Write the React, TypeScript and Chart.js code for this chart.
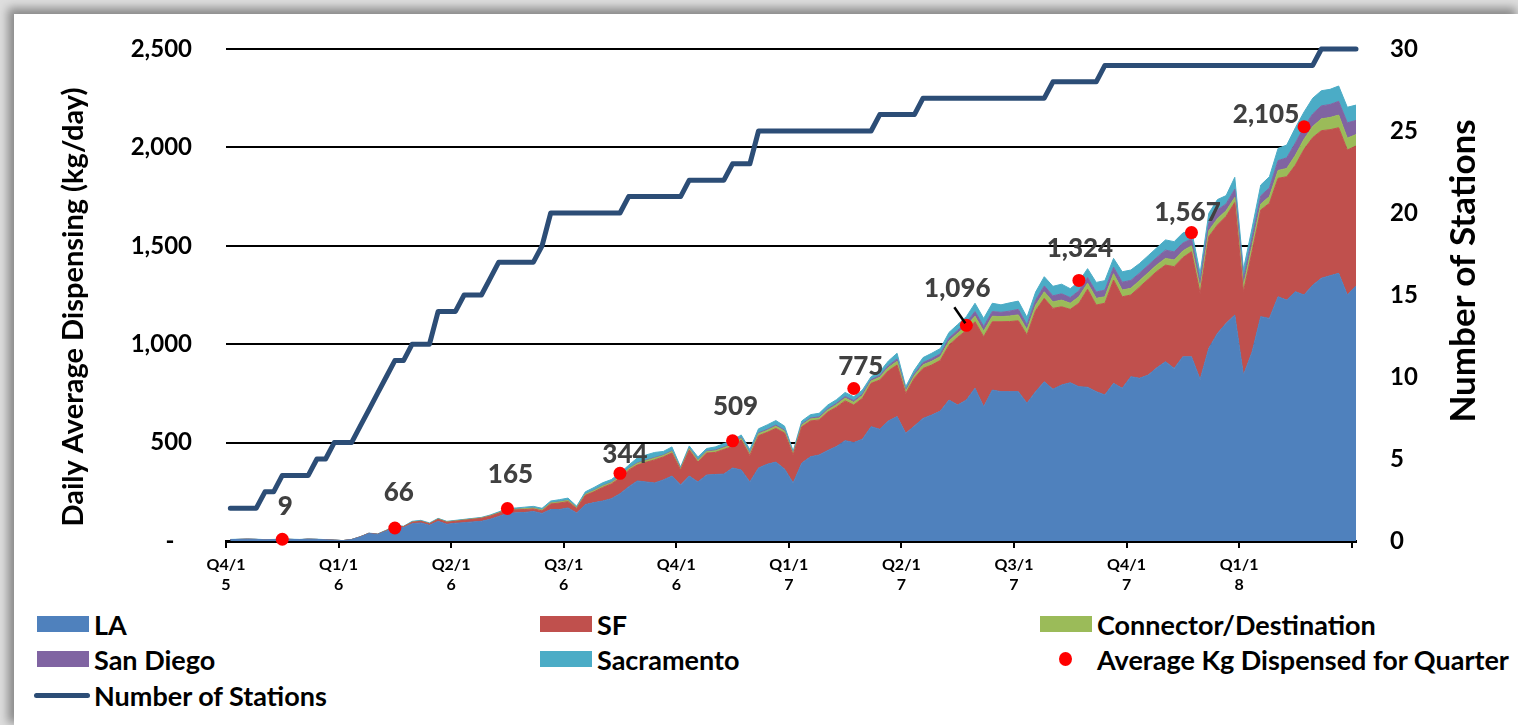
import React, { useEffect, useRef } from "react";
import { Chart, registerables } from "chart.js";

Chart.register(...registerables);

// ---------- data (weekly points, one quarter = 13 weeks) ----------
const QUARTER_LABELS = ["Q4/15", "Q1/16", "Q2/16", "Q3/16", "Q4/16", "Q1/17", "Q2/17", "Q3/17", "Q4/17", "Q1/18", ""];
const WEEKS_PER_QUARTER = 13;

const LA = [
  7, 8, 9, 8, 6, 7, 10, 8, 7, 9,
  8, 6, 4, 2, 7, 20, 38, 33, 50, 72,
  68, 88, 92, 80, 100, 85, 90, 93, 97, 100,
  110, 125, 140, 143, 145, 150, 140, 160, 160, 168,
  142, 185, 195, 203, 215, 240, 275, 305, 300, 295,
  310, 330, 285, 330, 300, 335, 338, 340, 371, 361,
  300, 371, 390, 401, 366, 295, 396, 428, 437, 460,
  480, 510, 500, 517, 581, 568, 610, 632, 547, 584,
  623, 640, 660, 716, 691, 716, 776, 682, 767, 759,
  759, 759, 700, 759, 809, 771, 793, 804, 784, 781,
  759, 742, 801, 776, 835, 827, 843, 880, 911, 877,
  936, 936, 821, 979, 1055, 1106, 1148, 843, 960, 1140,
  1131, 1241, 1224, 1267, 1250, 1300, 1335, 1348, 1360, 1250,
  1296,
];

const SF = [
  0, 0, 0, 0, 0, 0, 0, 0, 0, 0,
  0, 0, 0, 0, 0, 1, 1, 1, 2, 4,
  4, 7, 8, 7, 10, 10, 10, 12, 13, 15,
  16, 16, 18, 15, 15, 13, 13, 28, 33, 32,
  23, 47, 55, 69, 75, 80, 85, 81, 100, 117,
  117, 117, 76, 132, 101, 112, 112, 125, 109, 152,
  135, 164, 162, 171, 183, 142, 184, 182, 178, 195,
  200, 202, 191, 208, 220, 250, 255, 262, 203, 243,
  254, 254, 258, 279, 344, 354, 338, 356, 347, 355,
  356, 360, 347, 411, 424, 411, 397, 373, 424, 498,
  440, 466, 525, 465, 415, 463, 487, 490, 491, 517,
  504, 534, 437, 567, 551, 544, 572, 424, 510, 542,
  585, 602, 627, 643, 740, 750, 750, 742, 740, 737,
  711,
];

const CONNECTOR = [
  0, 0, 0, 0, 0, 0, 0, 0, 0, 0,
  0, 0, 0, 0, 0, 0, 0, 0, 1, 1,
  1, 1, 1, 1, 2, 2, 2, 2, 2, 2,
  2, 2, 3, 3, 4, 4, 4, 5, 5, 6,
  4, 5, 6, 7, 6, 7, 7, 8, 8, 9,
  7, 8, 5, 7, 8, 7, 8, 9, 9, 8,
  8, 10, 10, 11, 10, 6, 9, 10, 10, 11,
  12, 14, 14, 14, 12, 14, 16, 19, 11, 14,
  18, 19, 19, 21, 21, 22, 28, 28, 28, 26,
  28, 30, 27, 28, 33, 33, 34, 31, 33, 31,
  34, 33, 32, 34, 34, 33, 33, 33, 34, 34,
  34, 30, 28, 30, 32, 28, 26, 30, 32, 30,
  34, 40, 42, 50, 52, 56, 60, 62, 64, 60,
  58,
];

const SAN_DIEGO = [
  0, 0, 0, 0, 0, 0, 0, 0, 0, 0,
  0, 0, 0, 0, 0, 0, 0, 0, 0, 0,
  0, 0, 0, 0, 0, 0, 0, 0, 0, 0,
  0, 0, 0, 0, 0, 0, 0, 1, 1, 1,
  1, 1, 2, 2, 2, 2, 2, 3, 3, 3,
  3, 3, 2, 3, 3, 3, 4, 4, 4, 4,
  4, 5, 5, 6, 5, 3, 5, 5, 6, 6,
  7, 8, 8, 8, 7, 8, 10, 12, 7, 9,
  12, 14, 14, 15, 15, 17, 24, 24, 24, 22,
  25, 28, 24, 26, 30, 31, 32, 29, 30, 29,
  32, 34, 33, 40, 40, 38, 38, 38, 42, 41,
  40, 35, 32, 40, 44, 35, 42, 35, 38, 42,
  44, 50, 54, 62, 62, 64, 66, 66, 70, 78,
  72,
];

const SACRAMENTO = [
  1, 1, 1, 1, 1, 1, 1, 1, 1, 1,
  1, 1, 1, 0, 1, 1, 1, 2, 2, 3,
  2, 4, 4, 4, 3, 3, 3, 3, 3, 3,
  4, 5, 5, 7, 8, 9, 9, 9, 11, 11,
  7, 12, 14, 15, 14, 16, 16, 25, 26, 26,
  18, 20, 8, 11, 15, 13, 16, 17, 17, 14,
  18, 20, 23, 23, 20, 11, 16, 17, 18, 19,
  19, 21, 20, 20, 15, 20, 24, 29, 16, 19,
  25, 27, 27, 29, 29, 31, 42, 41, 42, 38,
  42, 42, 39, 41, 47, 48, 49, 45, 47, 45,
  49, 48, 45, 53, 53, 49, 49, 49, 52, 52,
  51, 45, 42, 49, 53, 42, 60, 48, 50, 55,
  57, 62, 65, 78, 76, 80, 77, 77, 78, 79,
  78,
];

const STATIONS = [
  2, 2, 2, 2, 3, 3, 4, 4, 4, 4,
  5, 5, 6, 6, 6, 7, 8, 9, 10, 11,
  11, 12, 12, 12, 14, 14, 14, 15, 15, 15,
  16, 17, 17, 17, 17, 17, 18, 20, 20, 20,
  20, 20, 20, 20, 20, 20, 21, 21, 21, 21,
  21, 21, 21, 22, 22, 22, 22, 22, 23, 23,
  23, 25, 25, 25, 25, 25, 25, 25, 25, 25,
  25, 25, 25, 25, 25, 26, 26, 26, 26, 26,
  27, 27, 27, 27, 27, 27, 27, 27, 27, 27,
  27, 27, 27, 27, 27, 28, 28, 28, 28, 28,
  28, 29, 29, 29, 29, 29, 29, 29, 29, 29,
  29, 29, 29, 29, 29, 29, 29, 29, 29, 29,
  29, 29, 29, 29, 29, 29, 30, 30, 30, 30,
  30,
];

const QUARTER_AVG = [9, 66, 165, 344, 509, 775, 1096, 1324, 1567, 2105];
const QUARTER_AVG_WEEK = [6.5, 19.5, 32.5, 45.5, 58.5, 72.5, 85.5, 98.5, 111.5, 124.5];

// ---------- styling ----------
const FONT = "Lato";
const COLORS = {
  la: "#4F81BD",
  sf: "#C0504D",
  conn: "#9BBB59",
  sd: "#8064A2",
  sac: "#4BACC6",
  dot: "#FF0000",
  line: "#2C4D76",
};
// label offsets (px) from each red dot, styling only
const LABEL_OFFSETS: [number, number][] = [
  [3, -34], [4, -36], [3, -35], [5, -20], [3, -35], [7, -23], [-9, -38], [1, -33], [-4, -21], [-38, -13],
];

const toPts = (arr: number[]) => arr.map((v, i) => ({ x: i + 0.5, y: v }));

const overlayPlugin = {
  id: "overlay",
  afterDatasetsDraw(chart: any) {
    const { ctx, scales } = chart;
    const x = scales.x;
    const y = scales.y;
    ctx.save();
    const size = 26;
    ctx.font = `900 ${size}px ${FONT}`;
    ctx.fillStyle = "#404040";
    ctx.textAlign = "center";
    ctx.textBaseline = "alphabetic";
    QUARTER_AVG.forEach((v, i) => {
      const px = x.getPixelForValue(QUARTER_AVG_WEEK[i]);
      const py = y.getPixelForValue(v);
      const [dx, dy] = LABEL_OFFSETS[i];
      ctx.fillText(v.toLocaleString("en-US"), px + dx, py + dy + size * 0.36);
      if (v === 1096) {
        ctx.strokeStyle = "#000";
        ctx.lineWidth = 2.5;
        ctx.beginPath();
        ctx.moveTo(px - 12, py - 18);
        ctx.lineTo(px - 1, py - 2);
        ctx.stroke();
      }
    });
    ctx.restore();
  },
  afterDraw(chart: any) {
    const { ctx, chartArea } = chart;
    ctx.save();
    ctx.fillStyle = "#000";
    ctx.textAlign = "center";
    ctx.textBaseline = "alphabetic";
    // left title
    ctx.save();
    ctx.font = `bold 29px ${FONT}`;
    ctx.translate(83, (chartArea.top + chartArea.bottom) / 2 + 12);
    ctx.rotate(-Math.PI / 2);
    ctx.fillText("Daily Average Dispensing (kg/day)", 0, 0);
    ctx.restore();
    // right title
    ctx.save();
    ctx.font = `bold 35px ${FONT}`;
    ctx.translate(1475, (chartArea.top + chartArea.bottom) / 2 - 24);
    ctx.rotate(-Math.PI / 2);
    ctx.fillText("Number of Stations", 0, 0);
    ctx.restore();
    ctx.restore();
  },
};

const LEGEND_FONT = `bold 27px ${FONT}`;

function LegendItem(props: { left: number; cy: number; kind: "box" | "dot" | "line"; color: string; label: string }) {
  const { left, cy, kind, color, label } = props;
  let marker: React.ReactNode;
  if (kind === "box") {
    marker = <span style={{ display: "inline-block", width: 52, height: 16, background: color, marginRight: 5 }} />;
  } else if (kind === "dot") {
    marker = (
      <span style={{ display: "inline-block", width: 57, height: 16, position: "relative" }}>
        <span style={{ position: "absolute", left: 19, top: 1, width: 13, height: 14, borderRadius: "50%", background: color }} />
      </span>
    );
  } else {
    marker = <span style={{ display: "inline-block", width: 56, height: 5, borderRadius: 3, background: color, marginRight: 4 }} />;
  }
  return (
    <div
      style={{
        position: "absolute",
        left,
        top: cy - 18,
        height: 36,
        display: "flex",
        alignItems: "center",
        font: LEGEND_FONT,
        color: "#000",
        whiteSpace: "nowrap",
      }}
    >
      {marker}
      <span>{label}</span>
    </div>
  );
}

export default function App() {
  const canvasRef = useRef<HTMLCanvasElement | null>(null);

  useEffect(() => {
    if (!canvasRef.current) return;
    const areaDs = (label: string, data: number[], color: string, idx: number) => ({
      type: "line" as const,
      label,
      data: toPts(data),
      yAxisID: "y",
      stack: "areas",
      order: 2 + idx,
      fill: idx === 0 ? "origin" : "-1",
      backgroundColor: color,
      borderColor: color,
      borderWidth: 1,
      pointRadius: 0,
      tension: 0,
    });

    const chart = new Chart(canvasRef.current, {
      type: "line",
      data: {
        datasets: [
          areaDs("LA", LA, COLORS.la, 0),
          areaDs("SF", SF, COLORS.sf, 1),
          areaDs("Connector/Destination", CONNECTOR, COLORS.conn, 2),
          areaDs("San Diego", SAN_DIEGO, COLORS.sd, 3),
          areaDs("Sacramento", SACRAMENTO, COLORS.sac, 4),
          {
            type: "line",
            label: "Average Kg Dispensed for Quarter",
            data: QUARTER_AVG.map((v, i) => ({ x: QUARTER_AVG_WEEK[i], y: v })),
            yAxisID: "y",
            stack: "dots",
            order: 0,
            showLine: false,
            pointRadius: 6.5,
            pointBackgroundColor: COLORS.dot,
            pointBorderWidth: 0,
            clip: false,
          } as any,
          {
            type: "line",
            label: "Number of Stations",
            data: toPts(STATIONS),
            yAxisID: "y1",
            order: 1,
            fill: false,
            borderColor: COLORS.line,
            borderWidth: 5,
            borderCapStyle: "round",
            borderJoinStyle: "round",
            pointRadius: 0,
            tension: 0,
            clip: false,
          } as any,
        ],
      },
      options: {
        responsive: false,
        animation: false,
        events: [],
        layout: { padding: { top: 49, left: 0, right: 0, bottom: 0 } },
        plugins: {
          legend: { display: false },
          tooltip: { enabled: false },
          title: { display: false },
        },
        scales: {
          x: {
            type: "linear",
            min: 0,
            max: QUARTER_LABELS.length * WEEKS_PER_QUARTER - WEEKS_PER_QUARTER + 0.5,
            afterBuildTicks: (s: any) => {
              s.ticks = QUARTER_LABELS.map((_, k) => ({ value: k * WEEKS_PER_QUARTER }));
            },
            afterFit: (s: any) => {
              s.height = 64;
            },
            ticks: {
              autoSkip: false,
              maxRotation: 0,
              minRotation: 0,
              padding: 6,
              color: "#000",
              font: { family: FONT, weight: "bold", size: 16, lineHeight: 1.3 },
              callback: (val: any) => {
                const k = Math.round(Number(val) / WEEKS_PER_QUARTER);
                const s = QUARTER_LABELS[k] || "";
                return s ? [s.slice(0, 4), s.slice(4)] : "";
              },
            },
            grid: { display: true, drawOnChartArea: false, drawTicks: true, tickLength: 7, color: "#000", lineWidth: 2 },
            border: { display: true, color: "#000", width: 3 },
          },
          y: {
            type: "linear",
            position: "left",
            stacked: true,
            min: 0,
            max: 2500,
            afterFit: (s: any) => {
              s.width = 226;
            },
            ticks: {
              stepSize: 500,
              padding: 34,
              color: "#000",
              font: { family: FONT, weight: "bold", size: 24 },
              callback: (v: any) => (Number(v) === 0 ? "-   " : Number(v).toLocaleString("en-US")),
            },
            grid: { color: "#000", lineWidth: 2, drawTicks: false },
            border: { display: false },
          },
          y1: {
            type: "linear",
            position: "right",
            min: 0,
            max: 30,
            afterFit: (s: any) => {
              s.width = 162;
            },
            ticks: {
              stepSize: 5,
              padding: 34,
              color: "#000",
              font: { family: FONT, weight: "bold", size: 24 },
            },
            grid: { drawOnChartArea: false, drawTicks: false },
            border: { display: false },
          },
        },
      } as any,
      plugins: [overlayPlugin],
    });
    return () => chart.destroy();
  }, []);

  return (
    <div style={{ position: "fixed", left: 0, top: 0, width: 1518, height: 725, background: "#dedede", overflow: "hidden" }}>
      <div
        style={{
          position: "absolute",
          left: 14,
          top: 14,
          width: 1504,
          height: 711,
          background: "#ffffff",
          boxShadow: "-4px -4px 9px 2px rgba(0,0,0,0.38)",
        }}
      />
      <canvas
        ref={canvasRef}
        width={1518}
        height={605}
        style={{ position: "absolute", left: 0, top: 0, width: 1518, height: 605 }}
      />
      <LegendItem left={37} cy={624} kind="box" color={COLORS.la} label="LA" />
      <LegendItem left={540} cy={624} kind="box" color={COLORS.sf} label="SF" />
      <LegendItem left={1040} cy={624} kind="box" color={COLORS.conn} label="Connector/Destination" />
      <LegendItem left={37} cy={659} kind="box" color={COLORS.sd} label="San Diego" />
      <LegendItem left={540} cy={659} kind="box" color={COLORS.sac} label="Sacramento" />
      <LegendItem left={1040} cy={659} kind="dot" color={COLORS.dot} label="Average Kg Dispensed for Quarter" />
      <LegendItem left={34} cy={695} kind="line" color={COLORS.line} label="Number of Stations" />
    </div>
  );
}
